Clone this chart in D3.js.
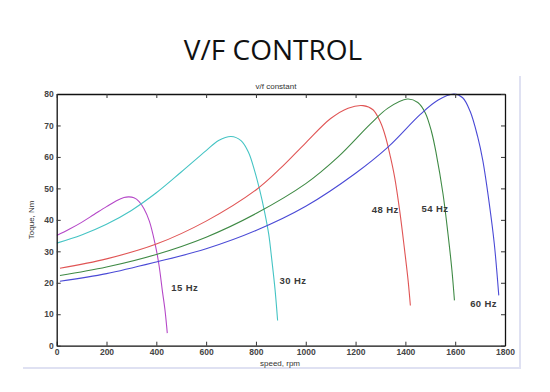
<!DOCTYPE html>
<html>
<head>
<meta charset="utf-8">
<script src="https://cdn.jsdelivr.net/npm/d3@7"></script>
<style>
  html, body { margin: 0; padding: 0; background: #ffffff; }
  svg { display: block; }
</style>
</head>
<body>
<svg id="chart" width="550" height="392"></svg>
<script>
// ---------- data ----------
const title = "V/F CONTROL";
const subtitle = "v/f constant";
const xLabel = "speed, rpm";
const yLabel = "Toque, Nm";
const xTicks = [0, 200, 400, 600, 800, 1000, 1200, 1400, 1600, 1800];
const yTicks = [0, 10, 20, 30, 40, 50, 60, 70, 80];

const seriesNames = ["15 Hz", "30 Hz", "48 Hz", "54 Hz", "60 Hz"];

const speed15  = [0, 50, 100, 150, 200, 240, 270, 290, 310, 330, 350, 372, 395, 411, 424, 435, 444];
const torque15 = [35.0, 37.0, 39.2, 41.7, 44.2, 46.1, 47.1, 47.3, 47.0, 45.9, 43.6, 39.6, 32.4, 25.5, 17.6, 11.2, 4.0];

const speed30  = [0, 100, 200, 300, 400, 500, 600, 650, 700, 740, 770, 795, 815, 835, 851, 864, 877, 887];
const torque30 = [32.6, 35.2, 38.6, 43.0, 48.6, 55.2, 62.0, 65.2, 66.5, 65.2, 61.5, 55.5, 49.5, 42.4, 35.6, 27.1, 17.6, 8.0];

const speed48  = [13, 200, 400, 600, 800, 900, 1000, 1100, 1170, 1230, 1270, 1300, 1320, 1340, 1357, 1377, 1397, 1411, 1420];
const torque48 = [24.6, 27.6, 32.3, 39.6, 49.5, 56.5, 64.5, 72.2, 75.5, 76.3, 75.0, 71.0, 66.5, 60.0, 53.5, 43.0, 30.3, 20.7, 12.8];

const speed54  = [13, 200, 400, 600, 800, 1000, 1130, 1260, 1330, 1408, 1450, 1480, 1505, 1524, 1551, 1571, 1587, 1597];
const torque54 = [22.3, 25.0, 29.0, 34.5, 42.0, 51.5, 60.0, 70.5, 75.5, 78.4, 77.3, 74.0, 68.0, 61.0, 48.3, 35.6, 23.9, 14.4];

const speed60  = [13, 200, 400, 600, 800, 1000, 1200, 1330, 1460, 1530, 1595, 1630, 1660, 1690, 1711, 1737, 1757, 1775];
const torque60 = [20.5, 22.9, 26.6, 30.8, 36.6, 44.3, 54.8, 63.1, 73.5, 78.0, 80.0, 78.8, 74.5, 66.5, 58.8, 45.1, 32.4, 16.0];

const labelSpeed  = [460, 895, 1265, 1465, 1660];
const labelTorque = [17.5, 19.5, 42.2, 42.4, 12.3];

// ---------- build ----------
const seriesColors = ["#b548c8", "#45c4c4", "#e05555", "#3f8a45", "#4a4ad6"];
const speeds  = [speed15, speed30, speed48, speed54, speed60];
const torques = [torque15, torque30, torque48, torque54, torque60];
const series = seriesNames.map((name, i) => ({
  name, color: seriesColors[i],
  points: speeds[i].map((s, j) => ({ s, t: torques[i][j] })),
  label: { s: labelSpeed[i], t: labelTorque[i] }
}));

const svg = d3.select("#chart");
const pLeft = 56.7, pRight = 505, pTop = 94, pBottom = 345.7;

const x = d3.scaleLinear().domain([0, 1800]).range([pLeft, pRight]);
const y = d3.scaleLinear().domain([0, 80]).range([pBottom, pTop]);

// figure panel shadow lines
svg.append("line").attr("x1", 520).attr("x2", 520).attr("y1", 76).attr("y2", 368)
  .attr("stroke", "#dfe1f2").attr("stroke-width", 2);
svg.append("line").attr("x1", 23).attr("x2", 521).attr("y1", 368).attr("y2", 368)
  .attr("stroke", "#dfe1f2").attr("stroke-width", 2);

// title
svg.append("text").attr("x", 273).attr("y", 59.5).attr("text-anchor", "middle")
  .attr("font-family", "'Open Sans', sans-serif").attr("font-size", 28)
  .attr("fill", "#111").text(title);

svg.append("text").attr("x", 276).attr("y", 88.5).attr("text-anchor", "middle")
  .attr("font-family", "'Liberation Sans', Arial, sans-serif").attr("font-size", 8)
  .attr("fill", "#333").text(subtitle);

// clip
svg.append("clipPath").attr("id", "plotclip").append("rect")
  .attr("x", pLeft).attr("y", pTop - 1).attr("width", pRight - pLeft).attr("height", pBottom - pTop + 1);

const line = d3.line().x(d => x(d.s)).y(d => y(d.t)).curve(d3.curveCatmullRom.alpha(0.5));

const g = svg.append("g").attr("clip-path", "url(#plotclip)");
g.selectAll("path.series").data(series).join("path")
  .attr("class", "series")
  .attr("d", d => line(d.points))
  .attr("fill", "none")
  .attr("stroke", d => d.color)
  .attr("stroke-width", 1.1);

// series labels
svg.selectAll("text.slabel").data(series).join("text")
  .attr("class", "slabel")
  .attr("x", d => x(d.label.s)).attr("y", d => y(d.label.t))
  .attr("font-family", "'Liberation Sans', Arial, sans-serif")
  .attr("font-size", 9.5).attr("font-weight", "bold").attr("fill", "#3a3a3a")
  .attr("letter-spacing", 0.4)
  .text(d => d.name);

// axes (MATLAB-like box with inward ticks)
const tickFont = g2 => g2.selectAll("text")
  .attr("font-family", "'Liberation Sans', Arial, sans-serif")
  .attr("font-size", 8.5).attr("font-weight", "bold").attr("fill", "#444");

const xAxis = svg.append("g").attr("transform", `translate(0,${pBottom})`)
  .call(d3.axisBottom(x).tickValues(xTicks).tickSizeInner(-4).tickSizeOuter(0).tickPadding(3).tickFormat(d3.format("d")));
xAxis.call(tickFont);
const yAxis = svg.append("g").attr("transform", `translate(${pLeft},0)`)
  .call(d3.axisLeft(y).tickValues(yTicks).tickSizeInner(-4).tickSizeOuter(0).tickPadding(3).tickFormat(d3.format("d")));
yAxis.call(tickFont);
const xTop = svg.append("g").attr("transform", `translate(0,${pTop})`)
  .call(d3.axisTop(x).tickValues(xTicks).tickSizeInner(-4).tickSizeOuter(0).tickFormat(""));
const yRight = svg.append("g").attr("transform", `translate(${pRight},0)`)
  .call(d3.axisRight(y).tickValues(yTicks).tickSizeInner(-4).tickSizeOuter(0).tickFormat(""));
[xAxis, yAxis, xTop, yRight].forEach(a => {
  a.selectAll("path.domain").attr("stroke", "#111").attr("stroke-width", 1.3);
  a.selectAll(".tick line").attr("stroke", "#333");
});

// axis labels
svg.append("text").attr("x", 280).attr("y", 365.5).attr("text-anchor", "middle")
  .attr("font-family", "'Liberation Sans', Arial, sans-serif").attr("font-size", 8)
  .attr("fill", "#333").text(xLabel);
svg.append("text").attr("transform", `translate(34,${(pTop + pBottom) / 2}) rotate(-90)`)
  .attr("text-anchor", "middle")
  .attr("font-family", "'Liberation Sans', Arial, sans-serif").attr("font-size", 8)
  .attr("fill", "#333").text(yLabel);
</script>
</body>
</html>
